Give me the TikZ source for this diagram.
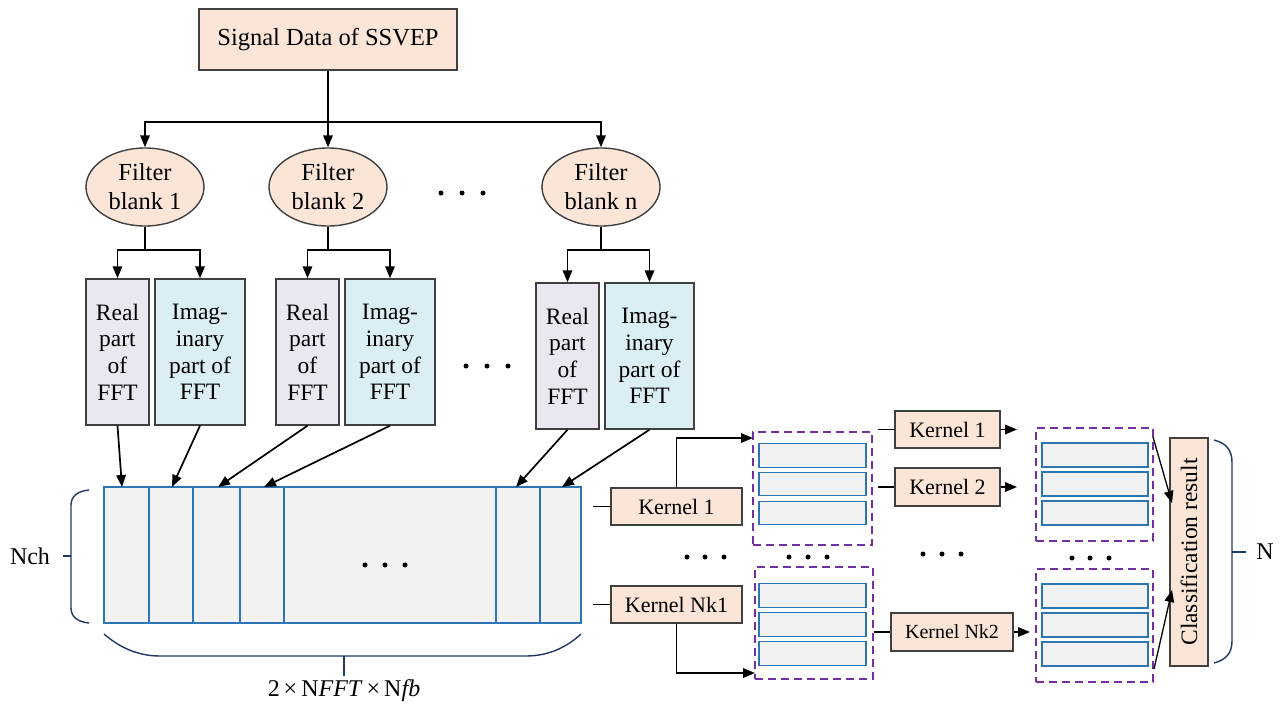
\documentclass[tikz,border=0pt]{standalone}
\usepackage{fontspec}
\setmainfont{Liberation Serif}
\newfontfamily\tnr{Liberation Serif}
\usetikzlibrary{arrows.meta,shapes.geometric}
\definecolor{peach}{HTML}{FBE5D6}
\definecolor{realc}{HTML}{EBE7F0}
\definecolor{imagc}{HTML}{DAEEF3}
\definecolor{matc}{HTML}{F2F2F2}
\definecolor{blueln}{HTML}{2E75B6}
\definecolor{purp}{HTML}{7030A0}
\definecolor{navy}{HTML}{203864}
\tikzset{
  box/.style={draw=black!75, line width=1.4pt, inner sep=0pt, align=center, font=\tnr\fontsize{23.5}{26.7}\selectfont},
  pbox/.style={box, fill=peach},
  rbox/.style={box, fill=realc, minimum width=63pt, minimum height=146pt},
  ibox/.style={box, fill=imagc, minimum width=90pt, minimum height=146pt},
  fbell/.style={ellipse, draw=black!75, fill=peach, line width=1.4pt, inner sep=0pt, minimum width=118pt, minimum height=78pt, align=center, font=\tnr\fontsize{24.5}{29}\selectfont},
  kbox/.style={pbox, minimum height=37pt, font=\tnr\fontsize{22}{26}\selectfont},
  arr/.style={-{Triangle[length=12pt,width=9.5pt]}, line width=1.7pt},
  ln/.style={line width=1.7pt},
  cellln/.style={draw=blueln, line width=1.3pt},
  cell/.style={draw=blueln, fill=matc, line width=1.3pt, inner sep=0pt},
  dbox/.style={draw=purp, dash pattern=on 8pt off 5pt, line width=1.6pt, inner sep=0pt},
  brace/.style={draw=navy, line width=1.4pt},
  lbl/.style={inner sep=0pt, font=\tnr\fontsize{24}{28}\selectfont},
  dot/.style={fill=black}
}
\begin{document}
\begin{tikzpicture}[x=1pt,y=-1pt]
\useasboundingbox (0,0) rectangle (1282,707);
\fill[white] (0,0) rectangle (1282,707);

% top
\node[pbox, minimum width=258pt, minimum height=61pt, font=\tnr\fontsize{24.5}{29}\selectfont] (sig) at (328,39.5) {Signal Data of SSVEP};
\node[fbell] (fb1) at (145,187) {Filter\\blank 1};
\node[fbell] (fb2) at (328,187) {Filter\\blank 2};
\node[fbell] (fbn) at (601,187) {Filter\\blank n};
\draw[ln] (sig.south) -- (328,122) coordinate (t0);
\draw[arr] (t0) -| (fb1.north);
\draw[arr] (t0) -- (fb2.north);
\draw[arr] (t0) -| (fbn.north);
\foreach \x in {441,462,483} \fill[dot] (\x,193) circle (2.5pt);

% FFT boxes
\node[rbox] (r1) at (117.5,352) {Real\\part\\of\\FFT};
\node[ibox] (i1) at (200,352) {Imag-\\inary\\part of\\FFT};
\node[rbox] (r2) at (307.5,352) {Real\\part\\of\\FFT};
\node[ibox] (i2) at (390,352) {Imag-\\inary\\part of\\FFT};
\node[rbox] (rn) at (567.5,356) {Real\\part\\of\\FFT};
\node[ibox, minimum width=89pt] (in) at (649.5,356) {Imag-\\inary\\part of\\FFT};
\draw[ln] (fb1.south) -- (145,250) coordinate (t1);
\draw[arr] (t1) -| (r1.north);
\draw[arr] (t1) -| (i1.north);
\draw[ln] (fb2.south) -- (328,250) coordinate (t2);
\draw[arr] (t2) -| (r2.north);
\draw[arr] (t2) -| (i2.north);
\draw[ln] (fbn.south) -- (601,250) coordinate (t3);
\draw[arr] (t3) -| (rn.north);
\draw[arr] (t3) -| (in.north);
\foreach \x in {466,487,508} \fill[dot] (\x,366) circle (2.5pt);

% matrix
\node[cell, minimum width=477pt, minimum height=136pt] (mat) at (342.5,555) {};
\foreach \x in {149,193,240,284,496,540} \draw[cellln] (\x,487) -- (\x,623);
\foreach \x in {365,385,405} \fill[dot] (\x,565) circle (2.5pt);
\coordinate (m1) at (122,487);
\coordinate (m2) at (172,487);
\coordinate (m3) at (218,487);
\coordinate (m4) at (264,487);
\coordinate (m5) at (516,487);
\coordinate (m6) at (562,487);
\draw[arr] (r1.south) -- (m1);
\draw[arr] (i1.south) -- (m2);
\draw[arr] (r2.south) -- (m3);
\draw[arr] (i2.south) -- (m4);
\draw[arr] (rn.south) -- (m5);
\draw[arr] (in.south) -- (m6);

% braces
\draw[brace] (89,490) .. controls (78,491) and (71,496) .. (71,505) -- (71,608) .. controls (71,617) and (78,622) .. (89,623);
\draw[brace] (63,556) -- (71,556) coordinate (lb);
\node[lbl] (nch) at (30,556) {Nch};
\draw[brace] (104,634) .. controls (118,646) and (136,656) .. (160,656) -- (526,656) .. controls (550,656) and (568,646) .. (581,634);
\draw[brace] (344,656) -- (344,676) coordinate (bb);
\node[lbl, anchor=north] (dim) at (344,679) {2\,×\,N\textit{FFT}\,×\,N\textit{fb}};

% first kernels
\node[kbox, minimum width=131pt] (k1) at (676.5,506.5) {Kernel 1};
\node[kbox, minimum width=131pt] (kn1) at (676.5,604.5) {Kernel Nk1};
\coordinate (a1) at (593,506.5);
\coordinate (a2) at (593,604.5);
\draw[ln] (a1) -- (k1.west);
\draw[ln] (a2) -- (kn1.west);

% dashed groups
\node[dbox, minimum width=119pt, minimum height=113pt] (d1) at (812.5,488.5) {};
\node[dbox, minimum width=118pt, minimum height=112pt] (d2) at (814,623) {};
\node[dbox, minimum width=117pt, minimum height=113pt] (d3) at (1094.5,484.5) {};
\node[dbox, minimum width=117pt, minimum height=113pt] (d4) at (1094.5,625.5) {};
\foreach \y [count=\i] in {455.5,484,513} \node[cell, minimum width=107pt, minimum height=23.5pt] (c1\i) at (812.5,\y) {};
\foreach \y [count=\i] in {595.5,624.5,653.5} \node[cell, minimum width=107pt, minimum height=23.5pt] (c2\i) at (812.5,\y) {};
\foreach \y [count=\i] in {455,484,513} \node[cell, minimum width=106pt, minimum height=24pt] (c3\i) at (1095,\y) {};
\foreach \y [count=\i] in {596,625,654} \node[cell, minimum width=106pt, minimum height=24pt] (c4\i) at (1095,\y) {};

\coordinate (d1in) at (753,438);
\coordinate (d2in) at (755,673);
\draw[arr] (k1.north) |- (d1in);
\draw[arr] (kn1.south) |- (d2in);

% dots between
\foreach \x in {687,705,724} \fill[dot] (\x,557) circle (2.5pt);
\foreach \x in {789,808,827} \fill[dot] (\x,557) circle (2.5pt);
\foreach \x in {923,942,961} \fill[dot] (\x,554) circle (2.5pt);
\foreach \x in {1072,1090,1109} \fill[dot] (\x,558) circle (2.5pt);

% second kernels
\node[kbox, minimum width=105pt] (k1b) at (947.5,429.5) {Kernel 1};
\node[kbox, minimum width=105pt, minimum height=38pt] (k2) at (947.5,487) {Kernel 2};
\node[kbox, minimum width=122pt, minimum height=38pt, font=\tnr\fontsize{20}{24}\selectfont] (knk2) at (952,632) {Kernel Nk2};
\coordinate (b1) at (878,429.5);
\coordinate (b2) at (878,487);
\coordinate (b3) at (874,632);
\draw[ln] (b1) -- (k1b.west);
\draw[ln] (b2) -- (k2.west);
\draw[ln] (b3) -- (knk2.west);
\coordinate (e1) at (1017,429.5);
\coordinate (e2) at (1017,487);
\coordinate (e3) at (1030,632);
\draw[arr] (k1b.east) -- (e1);
\draw[arr] (k2.east) -- (e2);
\draw[arr] (knk2.east) -- (e3);

% classification
\node[pbox, minimum width=38pt, minimum height=228pt] (cls) at (1189,552) {};
\node[rotate=90, inner sep=0pt, font=\tnr\fontsize{23.5}{28}\selectfont] (clst) at (1189,552) {Classification result};
\coordinate (f1) at (1153,437);
\coordinate (f2) at (1154,669);
\coordinate (g1) at (1172,503);
\coordinate (g2) at (1172,590);
\draw[arr, line width=1.3pt] (f1) -- (g1);
\draw[arr, line width=1.3pt] (f2) -- (g2);

% right brace
\draw[brace] (1214,440) .. controls (1226,443) and (1232,450) .. (1232,462) -- (1232,641) .. controls (1232,653) and (1226,660) .. (1214,663);
\draw[brace] (1232,552) -- (1246,552) coordinate (rb);
\node[lbl] (nn) at (1265,552) {N};
\end{tikzpicture}
\end{document}
